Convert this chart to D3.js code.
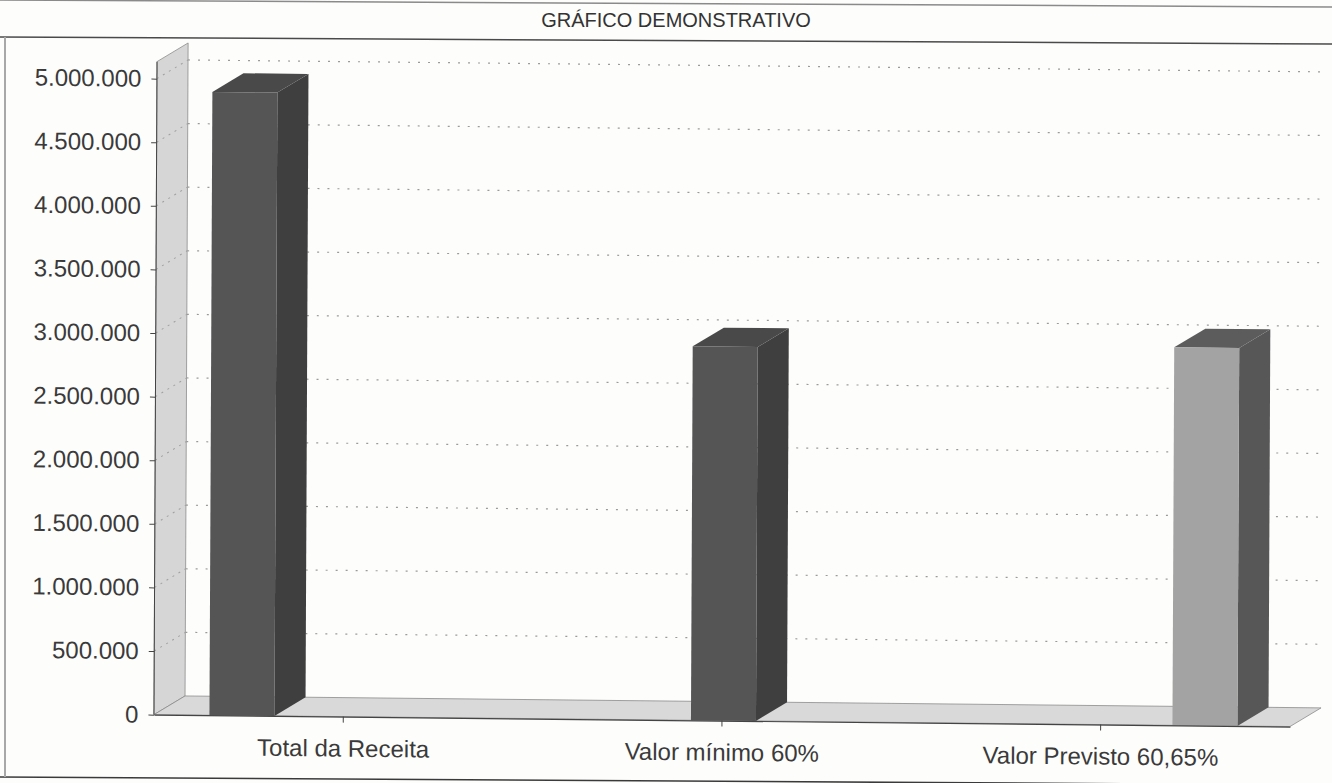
<!DOCTYPE html>
<meta charset="utf-8">
<style>
body { margin: 0; background: #fdfdfc; }
svg { display: block; font-family: "Liberation Sans", Arial, sans-serif; }
</style>
<body>
<div id="chart"></div>
<script src="https://d3js.org/d3.v7.min.js"></script>
<script>

// chart data
var title = "GRÁFICO DEMONSTRATIVO";
var categories = ["Total da Receita", "Valor mínimo 60%", "Valor Previsto 60,65%"];
var values = [4900000, 2940000, 2971850];
var yTicks = [0, 500000, 1000000, 1500000, 2000000, 2500000, 3000000, 3500000, 4000000, 4500000, 5000000];

// colours per bar: front, side, top
var faces = [
  {front: "#555555", side: "#3f3f3f", top: "#494949"},
  {front: "#555555", side: "#3f3f3f", top: "#494949"},
  {front: "#a3a3a3", side: "#575757", top: "#5c5c5c"}
];

var width = 1332, height = 783;
var depthX = 31, depthY = -19;   // 3d depth offset
var plotLeft = 155.5, plotRight = 1291.5, plotBottom = 720, plotTop = 84;

var svg = d3.select("#chart").append("svg")
  .attr("width", width)
  .attr("height", height);

// pt-BR number format
var br = d3.formatLocale({decimal: ",", thousands: ".", grouping: [3], currency: ["R$", ""]});
var fmt = br.format(",");

// page frame lines
svg.append("line").attr("x1", 0).attr("y1", 0).attr("x2", width).attr("y2", 7)
  .attr("stroke", "#8a8a8a").attr("stroke-width", 1.5);
svg.append("line").attr("x1", 0).attr("y1", 37).attr("x2", width).attr("y2", 44)
  .attr("stroke", "#4a4a4a").attr("stroke-width", 1.5);
svg.append("line").attr("x1", 0).attr("y1", 777).attr("x2", width).attr("y2", 785)
  .attr("stroke", "#3a3a3a").attr("stroke-width", 1.5);
svg.append("line").attr("x1", 5).attr("y1", 37).attr("x2", 5).attr("y2", 777)
  .attr("stroke", "#a8a8a8").attr("stroke-width", 2);

// title
svg.append("text")
  .attr("x", 676)
  .attr("y", 27)
  .attr("text-anchor", "middle")
  .style("font-size", "20px")
  .style("fill", "#333")
  .text(title);

// the scan is slightly skewed, so the plot gets a small shear
var g = svg.append("g")
  .attr("transform", "matrix(1,0.0105,-0.0047,1,1.84,-7)");

// scales
var y = d3.scaleLinear()
  .domain([0, 5000000])
  .range([plotBottom, plotTop]);

var xLabel = d3.scaleBand()
  .domain(categories)
  .range([plotLeft, plotRight]);

var xBar = d3.scaleBand()
  .domain(categories)
  .range([211, 1239])
  .paddingInner(0.865)
  .paddingOuter(0);

var wallTop = y(5000000) - 17;

// left wall
g.append("path")
  .attr("d", "M" + plotLeft + "," + plotBottom +
    "L" + (plotLeft + depthX) + "," + (plotBottom + depthY) +
    "L" + (plotLeft + depthX) + "," + (wallTop + depthY) +
    "L" + plotLeft + "," + wallTop + "Z")
  .attr("fill", "#d6d6d6")
  .attr("stroke", "#8c8c8c")
  .attr("stroke-width", 0.8);

// floor
g.append("path")
  .attr("d", "M" + plotLeft + "," + plotBottom +
    "L" + plotRight + "," + plotBottom +
    "L" + (plotRight + depthX) + "," + (plotBottom + depthY) +
    "L" + (plotLeft + depthX) + "," + (plotBottom + depthY) + "Z")
  .attr("fill", "#d9d9d9")
  .attr("stroke", "#8c8c8c")
  .attr("stroke-width", 0.8);

// gridlines on back wall
g.selectAll(".grid")
  .data(yTicks.slice(1))
  .enter().append("line")
    .attr("x1", plotLeft + depthX)
    .attr("x2", plotRight + depthX + 4)
    .attr("y1", function(d) { return y(d) + depthY; })
    .attr("y2", function(d) { return y(d) + depthY; })
    .attr("stroke", "#9a9a9a")
    .attr("stroke-width", 1.2)
    .attr("stroke-dasharray", "2,8");

// gridlines on side wall
g.selectAll(".gridside")
  .data(yTicks.slice(1))
  .enter().append("line")
    .attr("x1", plotLeft)
    .attr("x2", plotLeft + depthX)
    .attr("y1", function(d) { return y(d); })
    .attr("y2", function(d) { return y(d) + depthY; })
    .attr("stroke", "#a0a0a0")
    .attr("stroke-width", 1)
    .attr("stroke-dasharray", "2,5");

// bars
var bars = g.selectAll(".bar")
  .data(values)
  .enter().append("g");

// side face
bars.append("path")
  .attr("d", function(d, i) {
    var x1 = xBar(categories[i]) + xBar.bandwidth();
    return "M" + x1 + "," + plotBottom +
      "L" + (x1 + depthX) + "," + (plotBottom + depthY) +
      "L" + (x1 + depthX) + "," + (y(d) + depthY) +
      "L" + x1 + "," + y(d) + "Z";
  })
  .attr("fill", function(d, i) { return faces[i].side; });

// top face
bars.append("path")
  .attr("d", function(d, i) {
    var x0 = xBar(categories[i]), x1 = x0 + xBar.bandwidth();
    return "M" + x0 + "," + y(d) +
      "L" + (x0 + depthX) + "," + (y(d) + depthY) +
      "L" + (x1 + depthX) + "," + (y(d) + depthY) +
      "L" + x1 + "," + y(d) + "Z";
  })
  .attr("fill", function(d, i) { return faces[i].top; });

// front face
bars.append("rect")
  .attr("x", function(d, i) { return xBar(categories[i]); })
  .attr("y", function(d) { return y(d); })
  .attr("width", xBar.bandwidth())
  .attr("height", function(d) { return plotBottom - y(d); })
  .attr("fill", function(d, i) { return faces[i].front; });

// y axis
var yAxis = g.append("g")
  .attr("transform", "translate(" + plotLeft + ",0)")
  .call(d3.axisLeft(y).tickValues(yTicks).tickFormat(fmt).tickSize(5.5).tickPadding(10).tickSizeOuter(0));
yAxis.select(".domain")
  .attr("d", "M0," + plotBottom + "V" + wallTop)
  .attr("stroke", "#444");
yAxis.selectAll("line").attr("stroke", "#444");
yAxis.selectAll("text")
  .style("font-size", "24px")
  .style("font-family", "'Liberation Sans', Arial, sans-serif")
  .style("fill", "#3a3a3a");

// x axis (floor front edge)
var xAxis = g.append("g")
  .attr("transform", "translate(0," + plotBottom + ")")
  .call(d3.axisBottom(xLabel).tickSize(6).tickPadding(17).tickSizeOuter(0));
xAxis.select(".domain").attr("stroke", "#444").attr("stroke-width", 1.2);
xAxis.selectAll("line").attr("stroke", "#444");
xAxis.selectAll("text")
  .style("font-size", "24px")
  .style("font-family", "'Liberation Sans', Arial, sans-serif")
  .style("fill", "#3a3a3a");

</script>
</body>
